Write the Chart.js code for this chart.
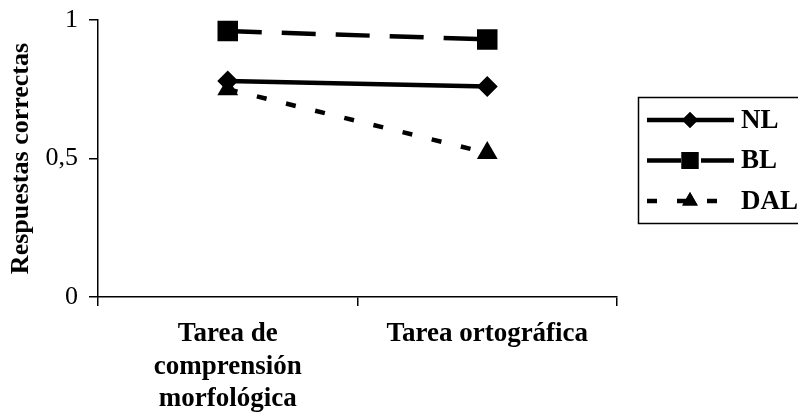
<!DOCTYPE html>
<html>
<head>
<meta charset="utf-8">
<script src="https://cdn.jsdelivr.net/npm/chart.js@4.4.0/dist/chart.umd.min.js"></script>
<style>
  body { margin: 0; background: #fff; }
  #wrap { width: 798px; height: 418px; }
</style>
</head>
<body>
<div id="wrap"><canvas id="myChart" width="798" height="418"></canvas></div>
<script>
// Data
const categories = [["Tarea de", "comprensión", "morfológica"], "Tarea ortográfica"]
const seriesNames = ["NL", "BL", "DAL"]
const nlValues = [0.78, 0.76]
const blValues = [0.96, 0.93]
const dalValues = [0.75, 0.52]
const yTicks = [0, 0.5, 1]

const serif = "'Liberation Serif', 'Times New Roman', serif"

// Boxed legend on the right, drawn by hand like the original
const boxLegend = {
    id: "boxLegend",
    afterDraw(chart) {
        const ctx = chart.ctx
        ctx.save()
        ctx.strokeStyle = "#000"
        ctx.lineWidth = 1.5
        ctx.strokeRect(638.5, 97.5, 200, 126)

        chart.data.datasets.forEach(function(ds, i) {
            let y = 120 + i * 40.5
            ctx.beginPath()
            ctx.setLineDash(ds.borderDash || [])
            ctx.lineWidth = ds.borderWidth
            ctx.strokeStyle = "#000"
            ctx.moveTo(647, y)
            ctx.lineTo(734, y)
            ctx.stroke()
            ctx.setLineDash([])

            Chart.helpers.drawPoint(ctx, {
                pointStyle: ds.pointStyle,
                radius: ds.legendRadius,
                borderWidth: 0
            }, 690, y)
            ctx.fillStyle = "#000"
            ctx.fill()

            ctx.font = "bold 27px " + serif
            ctx.textBaseline = "middle"
            ctx.textAlign = "left"
            ctx.fillText(ds.label, 741, y + 1)
        })
        ctx.restore()
    }
}

const data = {
    labels: categories,
    datasets: [
        {
            label: seriesNames[0],
            data: nlValues,
            borderColor: "#000",
            backgroundColor: "#000",
            borderWidth: 4.5,
            pointStyle: "rectRot",
            pointRadius: 10.5,
            legendRadius: 8,
            pointBorderWidth: 0
        },
        {
            label: seriesNames[1],
            data: blValues,
            borderColor: "#000",
            backgroundColor: "#000",
            borderWidth: 4.5,
            borderDash: [34, 20],
            pointStyle: "rect",
            pointRadius: 14.5,
            legendRadius: 12,
            pointBorderWidth: 0
        },
        {
            label: seriesNames[2],
            data: dalValues,
            borderColor: "#000",
            backgroundColor: "#000",
            borderWidth: 4.5,
            borderDash: [10, 20],
            pointStyle: "triangle",
            pointRadius: 12,
            legendRadius: 9,
            pointBorderWidth: 0
        }
    ]
}

const config = {
    type: "line",
    data: data,
    options: {
        responsive: false,
        animation: false,
        layout: { padding: { top: 20, right: 181, left: 0, bottom: 0 } },
        plugins: {
            legend: { display: false },
            tooltip: { enabled: false }
        },
        scales: {
            x: {
                offset: true,
                border: { display: true, color: "#000", width: 1.5 },
                grid: { drawOnChartArea: false, drawTicks: true, tickLength: 9, color: "#000", lineWidth: 1.5, offset: true },
                ticks: {
                    color: "#000",
                    padding: 12,
                    maxRotation: 0,
                    autoSkip: false,
                    font: { family: serif, size: 27, weight: "bold", lineHeight: 1.2 }
                },
                afterFit(scale) {
                    scale.height = 121
                    scale.paddingLeft = 0
                    scale.paddingRight = 0
                }
            },
            y: {
                min: 0,
                max: 1,
                border: { display: true, color: "#000", width: 1.5 },
                grid: { drawOnChartArea: false, drawTicks: true, tickLength: 9, color: "#000", lineWidth: 1.5 },
                afterBuildTicks(scale) {
                    scale.ticks = yTicks.map(function(v) { return { value: v } })
                },
                ticks: {
                    color: "#000",
                    padding: 11,
                    font: { family: serif, size: 26 },
                    callback: function(v) { return String(v).replace(".", ",") }
                },
                title: {
                    display: true,
                    text: "Respuestas correctas",
                    color: "#000",
                    padding: { top: 6, bottom: 0 },
                    font: { family: serif, size: 26, weight: "bold" }
                },
                afterFit(scale) {
                    scale.width = 98
                    scale.paddingTop = 0
                    scale.paddingBottom = 0
                }
            }
        }
    },
    plugins: [boxLegend]
}

document.addEventListener("DOMContentLoaded", function() {
    new Chart(document.getElementById("myChart"), config)
})
</script>
</body>
</html>
